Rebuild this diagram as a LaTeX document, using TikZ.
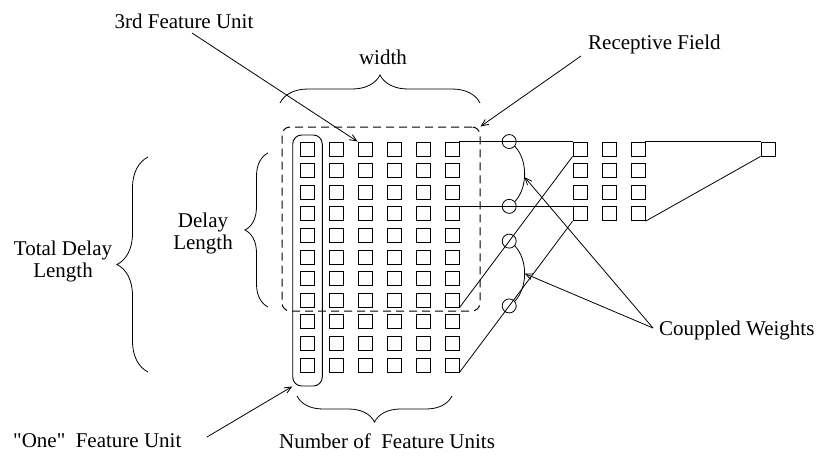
\documentclass[tikz,border=0pt]{standalone}
\usepackage{fontspec}
\setmainfont{Liberation Serif}[Ligatures=TeXOff]
\usetikzlibrary{arrows.meta,decorations.pathreplacing,calc}
\begin{document}
\begin{tikzpicture}[x=1pt,y=-1pt,
  cell/.style={draw,line width=0.9pt,minimum size=14pt,inner sep=0pt},
  wcirc/.style={draw,circle,minimum size=14pt,inner sep=0pt,line width=0.8pt},
  lbl/.style={font=\fontsize{21}{22}\selectfont,inner sep=0pt,align=center},
  conn/.style={line width=0.8pt},
  arr/.style={line width=0.8pt,-{Straight Barb[length=7pt,width=6pt]}},
  brc/.style={line width=0.8pt,decorate,decoration={brace,amplitude=#1}},
]
\useasboundingbox (0,0) rectangle (823,456);

% input grid
\foreach \r in {0,...,10}{
  \foreach \c in {0,...,5}{
    \node[cell] (in-\r-\c) at ({307+29*\c},{149+21.6*\r}) {};
  }
}
% output grid
\foreach \r in {0,...,3}{
  \foreach \c in {0,1,2}{
    \node[cell] (out-\r-\c) at ({580+29*\c},{149+21.6*\r}) {};
  }
}
\node[cell] (fin) at (768,149) {};

% receptive field and feature unit boxes
\node[draw,dash pattern=on 8pt off 5pt,rounded corners=8pt,minimum width=198pt,minimum height=184pt,inner sep=0pt,line width=1pt] (rfbox) at (381,219) {};
\node[draw,rounded corners=9pt,minimum width=29.6pt,minimum height=251pt,inner sep=0pt,line width=0.9pt] (fu) at (307.5,260.5) {};

% weighted connections
\draw[conn] (in-0-5.north east) -- node[wcirc,pos=0.44] (c1) {} (out-0-0.north west);
\draw[conn] (in-3-5.north east) -- node[wcirc,pos=0.44] (c2) {} (out-3-0.north west);
\draw[conn] (in-7-5.south east) -- node[wcirc,pos=0.44] (c3) {} (out-0-0.south west);
\draw[conn] (in-10-5.south east) -- node[wcirc,pos=0.44] (c4) {} (out-3-0.south west);
\draw[conn] (out-0-2.north east) -- (fin.north west);
\draw[conn] (out-3-2.south east) -- (fin.south west);

% coupling arcs
\draw[conn] (c1.-40) .. controls +(13,14) and +(13,-14) .. (c2.40) coordinate[pos=0.55] (m1);
\draw[conn] (c3.-40) .. controls +(13,14) and +(13,-14) .. (c4.40) coordinate[pos=0.5] (m2);

% labels
\node[lbl] (l3rd) at (184,21) {3rd Feature Unit};
\node[lbl] (lw) at (383,57) {width};
\node[lbl,anchor=west] (lrf) at (588,44) {Receptive Field};
\node[lbl] (ldl) at (203,233) {Delay\\Length};
\node[lbl] (ltdl) at (63,261) {Total Delay\\Length};
\node[lbl,anchor=west] (lone) at (13,441) {"One"\ \ Feature Unit};
\node[lbl,anchor=west] (lnum) at (279,441) {Number of\ \ Feature Units};
\node[lbl,anchor=west] (cw) at (659,330) {Couppled Weights};

% braces
\draw[brc=28pt] (280,103) -- (480,103);
\draw[brc=23pt] (268,307) -- (268,153);
\draw[brc=31pt] (148,372) -- (148,157);
\draw[brc=26pt] (452,396) -- (297,396);

% arrows
\coordinate (a3s) at (192,33);
\coordinate (ars) at (581,56);
\coordinate (aos) at (207,437);
\coordinate (cwp) at (653,328);
\draw[arr] (a3s) -- (in-0-2.north west);
\draw[arr] (ars) -- (rfbox.north east);
\draw[arr] (aos) -- (fu.south west);
\draw[arr] (cwp) -- (m1);
\draw[arr] (cwp) -- (m2);
\end{tikzpicture}
\end{document}
